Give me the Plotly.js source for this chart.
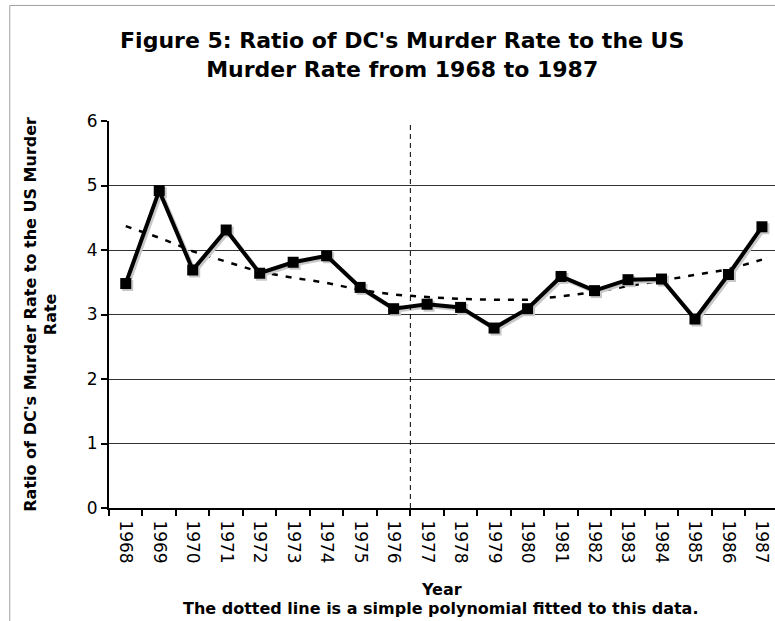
<!DOCTYPE html>
<html>
<head>
<meta charset="utf-8">
<script src="https://cdn.plot.ly/plotly-3.0.1.min.js"></script>
<style>html,body{margin:0;padding:0;background:#fff;overflow:hidden;}</style>
</head>
<body>
<div id="chart" style="width:775px;height:621px;"></div>
<script>
const years = ['1968','1969','1970','1971','1972','1973','1974','1975','1976','1977',
               '1978','1979','1980','1981','1982','1983','1984','1985','1986','1987'];
const ratio = [3.48,4.92,3.69,4.31,3.64,3.81,3.91,3.42,3.09,3.16,
               3.11,2.79,3.09,3.59,3.37,3.54,3.55,2.93,3.62,4.36];
const trend = [4.37,4.19,3.98,3.82,3.66,3.57,3.49,3.38,3.31,3.27,
               3.24,3.23,3.23,3.28,3.35,3.44,3.53,3.62,3.70,3.85];
const dividerAfter = '1976';
const yTicks = [0,1,2,3,4,5,6];

const FONT = 'DejaVu Sans, Verdana, sans-serif';
const divIdx = years.indexOf(dividerAfter) + 0.5;

const traces = [
  {x: years, y: trend, type:'scatter', mode:'lines',
   line:{color:'#000', width:2.5, dash:'6px,8px'}, showlegend:false},
  // shadow
  {x: years, y: ratio, xaxis:'x2', yaxis:'y2', type:'scatter', mode:'lines+markers',
   line:{color:'#c8c8c8', width:4}, marker:{symbol:'square', size:11, color:'#c8c8c8'},
   hoverinfo:'skip', showlegend:false},
  {x: years, y: ratio, xaxis:'x3', yaxis:'y3', type:'scatter', mode:'lines+markers',
   line:{color:'#000', width:4}, marker:{symbol:'square', size:11, color:'#000'},
   showlegend:false}
];

const xr = [-0.5, 19.39];
const yr = [0, 6];
const layout = {
  width: 775, height: 621,
  margin: {l: 109, r: 0, t: 121, b: 113},
  paper_bgcolor: '#fff', plot_bgcolor: '#fff',
  font: {family: FONT, color: '#000'},
  title: {text: "Figure 5: Ratio of DC's Murder Rate to the US<br>Murder Rate from 1968 to 1987",
          font: {family: FONT, size: 22, color: '#000', weight: 'bold'},
          xref: 'container', x: 0.519, xanchor: 'center',
          yref: 'container', y: 0.922, yanchor: 'top'},
  xaxis: {type: 'category', range: xr, tickangle: 90, tickson: 'boundaries',
          ticks: 'outside', ticklen: 6, tickwidth: 2, tickcolor: '#000', ticklabelstandoff: 7,
          showline: true, linecolor: '#000', linewidth: 2,
          showgrid: false, zeroline: false,
          tickfont: {family: FONT, size: 17, color: '#000'}},
  yaxis: {range: yr, tickvals: yTicks, ticks: 'outside', ticklen: 6, tickwidth: 2, tickcolor: '#000',
          showline: true, linecolor: '#000', linewidth: 2,
          showgrid: true, gridcolor: '#333', gridwidth: 1, zeroline: false,
          tickfont: {family: FONT, size: 17, color: '#000'}},
  xaxis2: {type: 'category', overlaying: 'x', range: [xr[0]-0.06, xr[1]-0.06], visible: false},
  yaxis2: {overlaying: 'y', range: [yr[0]+0.031, yr[1]+0.031], visible: false},
  xaxis3: {type: 'category', overlaying: 'x', range: xr, visible: false},
  yaxis3: {overlaying: 'y', range: yr, visible: false},
  shapes: [
    {type:'line', xref:'x', yref:'paper', x0: divIdx, x1: divIdx, y0: 0, y1: 1,
     line:{color:'#000', width:1, dash:'5px,4px'}},
    {type:'rect', xref:'paper', yref:'paper', x0: -0.149, x1: 1.05, y0: -0.5, y1: 1.2985,
     line:{color:'#a0a0a0', width:1}, fillcolor:'rgba(0,0,0,0)', layer:'below'}
  ],
  annotations: [
    {text: "Ratio of DC's Murder Rate to the US Murder<br>Rate", xref:'paper', yref:'paper',
     x: -0.1033, y: 0.5, xanchor:'center', yanchor:'middle', textangle: -90, showarrow:false,
     font:{family: FONT, size: 16, color:'#000', weight:'bold'}},
    {text: 'Year', xref:'paper', yref:'paper', x: 0.499, y: -0.2108, xanchor:'center', yanchor:'middle',
     showarrow:false, font:{family: FONT, size: 16, color:'#000', weight:'bold'}},
    {text: 'The dotted line is a simple polynomial fitted to this data.', xref:'paper', yref:'paper',
     x: 0.499, y: -0.2598, xanchor:'center', yanchor:'middle',
     showarrow:false, font:{family: FONT, size: 16, color:'#000', weight:'bold'}}
  ]
};

Plotly.newPlot('chart', traces, layout, {displayModeBar: false, staticPlot: true});
</script>
</body>
</html>
